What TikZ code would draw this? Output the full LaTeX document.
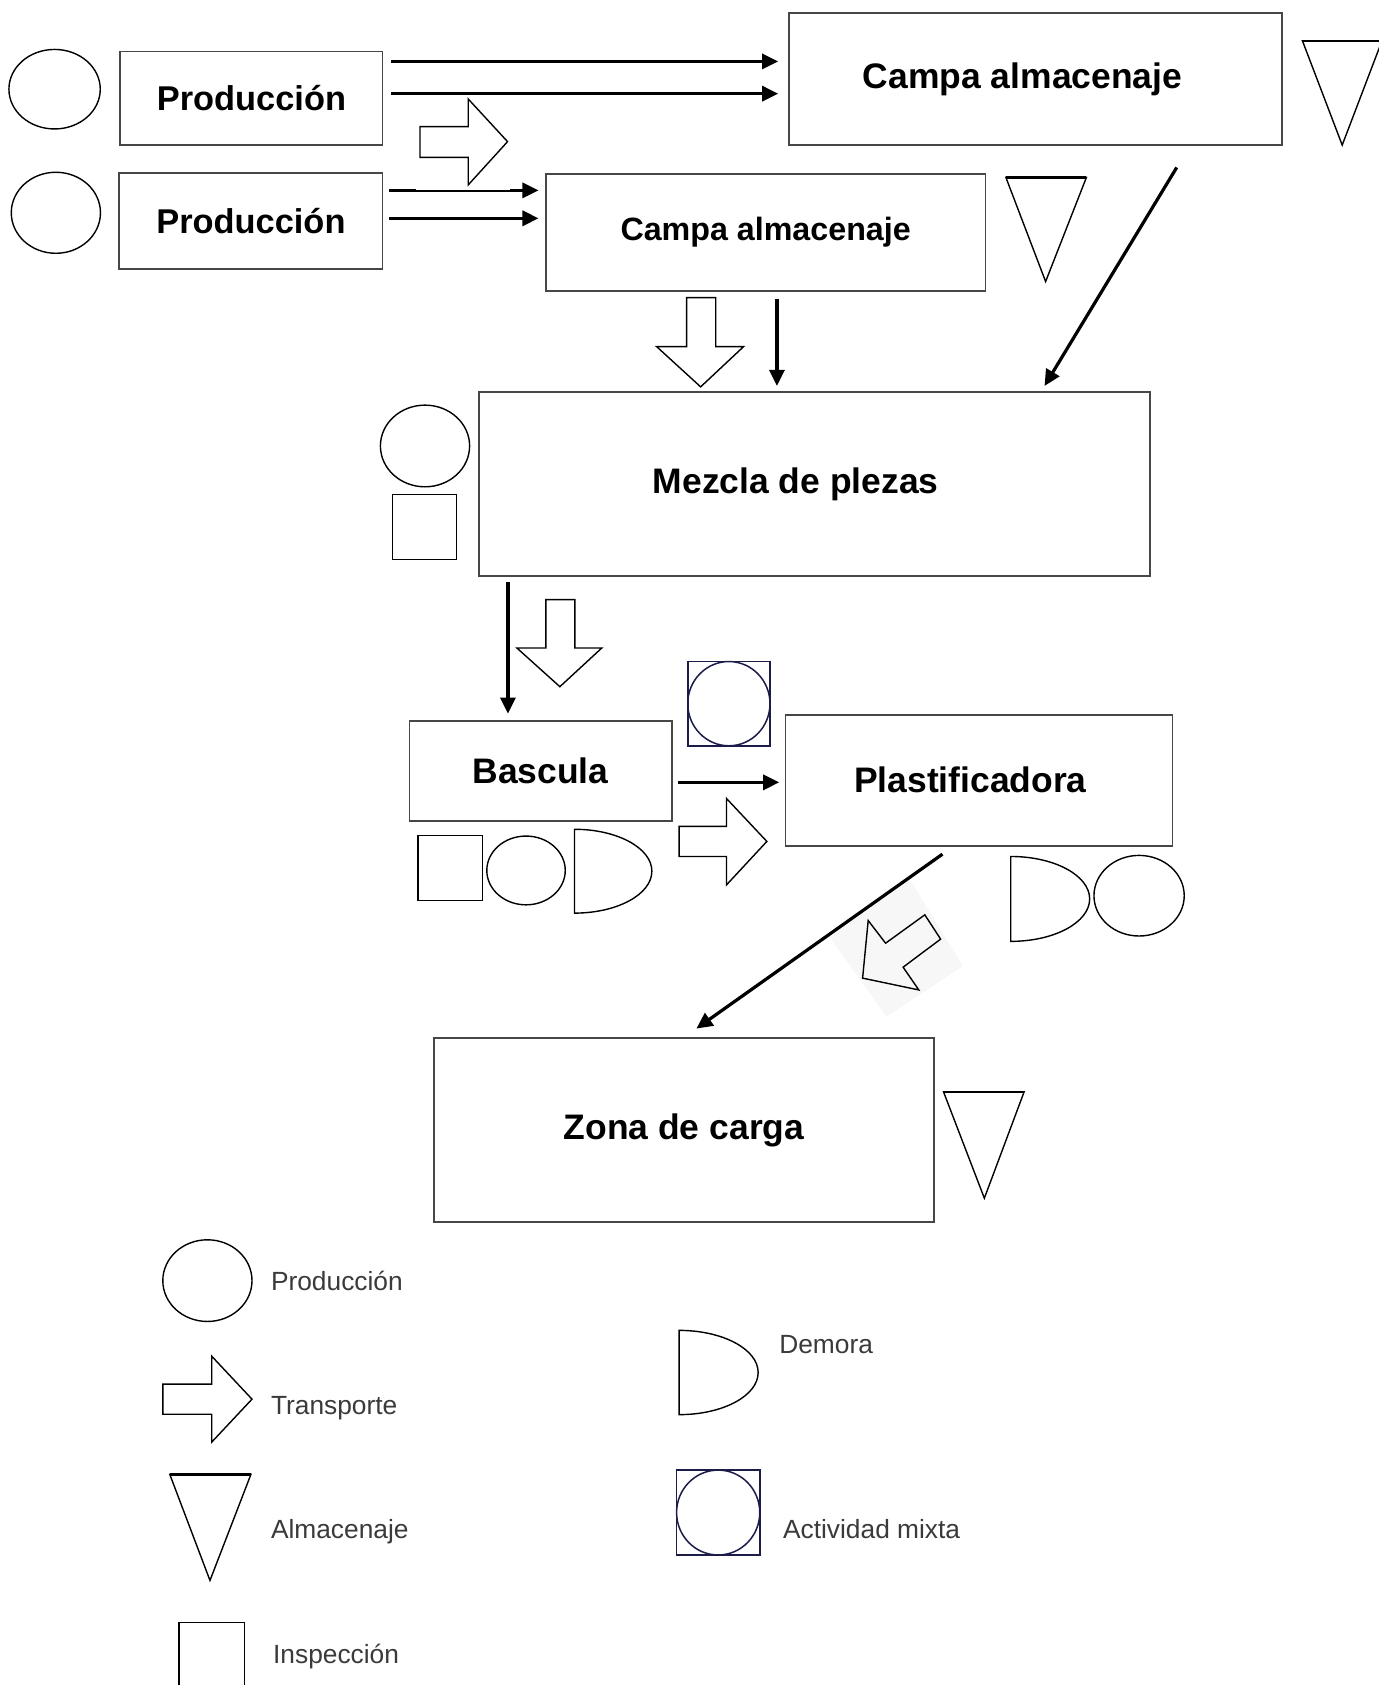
\documentclass[tikz,border=0pt]{standalone}
\usepackage{fontspec}
\setmainfont{Liberation Sans}
\usetikzlibrary{arrows.meta}
\definecolor{mixcol}{RGB}{28,28,72}
\definecolor{legtext}{RGB}{58,58,58}
\begin{document}
\begin{tikzpicture}[x=1pt,y=-1pt,
  box/.style={draw=black!72, line width=1.7pt, inner sep=0pt,
    font=\bfseries\fontsize{33}{40}\selectfont},
  conn/.style={line width=3pt, -{Triangle[length=15pt,width=14pt]}},
  sym/.style={draw=black, line width=1.3pt},
  mix/.style={draw=mixcol, line width=1.4pt},
  topedge/.style={draw=black, line width=2.3pt},
  legtxt/.style={anchor=base west, inner sep=0pt, text=legtext,
    font=\fontsize{24.5}{29}\selectfont}]

\useasboundingbox (0,0) rectangle (1283,1568);
\clip (0,0) rectangle (1283,1568);

% ---------- process boxes ----------
\node[box, minimum width=244pt, minimum height=87pt,
  font=\bfseries\fontsize{32}{38}\selectfont] (prod1) at (234,91.5) {Producción};
\node[box, minimum width=245pt, minimum height=89pt,
  font=\bfseries\fontsize{32}{38}\selectfont] (prod2) at (233.5,205.5) {Producción};
\node[box, minimum width=459pt, minimum height=123pt] (campa1) at (963.5,73.5)
  {\hspace*{-24pt}Campa almacenaje};
\node[box, minimum width=409pt, minimum height=109pt,
  font=\bfseries\fontsize{30}{36}\selectfont] (campa2) at (712.5,216.5) {Campa almacenaje};
\node[box, minimum width=624pt, minimum height=171pt] (mezcla) at (758,450.5)
  {\hspace*{-35pt}Mezcla de plezas};
\node[box, minimum width=244pt, minimum height=93pt] (bascula) at (503,717.5) {Bascula};
\node[box, minimum width=360pt, minimum height=122pt] (plast) at (911,726)
  {\hspace*{-16pt}Plastificadora};
\node[box, minimum width=465pt, minimum height=171pt] (zona) at (636.5,1051.5) {Zona de carga};

% ---------- connectors ----------
\coordinate (p1a) at ([shift={(7,10)}]prod1.north east);
\coordinate (p1b) at ([shift={(7,40)}]prod1.north east);
\draw[conn, shorten >=9pt] (p1a) -- (p1a -| campa1.west);
\draw[conn, shorten >=9pt] (p1b) -- (p1b -| campa1.west);

\coordinate (p2a) at ([shift={(5,17)}]prod2.north east);
\coordinate (p2b) at ([shift={(5,43)}]prod2.north east);
\draw[conn, shorten >=6pt] (p2a) -- (p2a -| campa2.west);
\draw[conn, shorten >=6pt] (p2b) -- (p2b -| campa2.west);

\draw[conn] ([shift={(131.5,20)}]campa1.south) -- ([shift={(214,-5)}]mezcla.north);

\coordinate (c2v) at ([shift={(10.5,6)}]campa2.south);
\draw[conn, shorten >=5pt] (c2v) -- (c2v |- mezcla.north);

\coordinate (mzv) at ([shift={(27.5,5)}]mezcla.south west);
\draw[conn, shorten >=6pt] (mzv) -- (mzv |- bascula.north);

\coordinate (bsh) at ([shift={(5,10.5)}]bascula.east);
\draw[conn, shorten >=5pt] (bsh) -- (bsh -| plast.west);

% faint backdrop of the slanted transport arrow
\fill[black!3] (772,872) -- (847,819) -- (896,899) -- (825,946) -- cycle;

\draw[conn] ([shift={(-34,7)}]plast.south) -- ([shift={(11.5,-8)}]zona.north);

% ---------- transport arrows ----------
\fill[white] (387,88.8) rectangle (474.5,177.2);
\draw[sym, line join=miter] (390.8,117.9) -- (435.7,117.9) -- (435.7,92.1) -- (472.3,131.8)
  -- (435.7,172.1) -- (435.7,146.4) -- (390.8,146.4) -- cycle;
\draw[sym] (639,277) -- (666,277) -- (666,322.5) -- (692,322.5) -- (652,360)
  -- (611,322.5) -- (639,322.5) -- cycle;
\draw[sym] (508,558) -- (535,558) -- (535,603) -- (560,603) -- (521,639)
  -- (481,603) -- (508,603) -- cycle;
\draw[sym] (632,769) -- (676,769) -- (676,743) -- (713.6,783) -- (676,823.5)
  -- (676,797) -- (632,797) -- cycle;
\draw[sym] (802.7,910.2) -- (855,921.2) -- (840.4,900) -- (875.3,873.9)
  -- (860.6,851.3) -- (824.1,877.7) -- (807.9,856.6) -- cycle;

% ---------- production circles ----------
\draw[sym] (50.8,83) ellipse[x radius=42.5, y radius=37];
\draw[sym] (52,198) ellipse[x radius=41.5, y radius=37.7];
\draw[sym] (395.5,415) ellipse[x radius=41.5, y radius=38];
\draw[sym] (489.5,810) ellipse[x radius=36.5, y radius=32];
\draw[sym] (1060,833.5) ellipse[x radius=42, y radius=37.5];

% ---------- storage triangles ----------
\draw[sym] (1212,38) -- (1286,38) -- (1249,135) -- cycle;
\draw[topedge] (1212,38) -- (1286,38);
\draw[sym] (936,165) -- (1011,165) -- (973,262) -- cycle;
\draw[topedge] (936,165) -- (1011,165);
\draw[sym] (878,1016) -- (953,1016) -- (916,1115) -- cycle;
\draw[topedge] (878,1016) -- (953,1016);

% ---------- inspection squares ----------
\draw[sym, line width=1.1pt] (365,460) rectangle (425,521);
\draw[sym, line width=1.1pt] (389,777.5) rectangle (449,838);

% ---------- delay shapes ----------
\draw[sym] (534.6,771.7) arc[start angle=-90, end angle=90, x radius=72, y radius=39] -- cycle;
\draw[sym] (940.6,797) arc[start angle=-90, end angle=90, x radius=73.4, y radius=39.5] -- cycle;

% ---------- combined activity ----------
\draw[mix] (640,615.6) rectangle (716.5,694);
\draw[mix] (678.25,654.8) ellipse[x radius=38.25, y radius=39.2];

% ---------- legend ----------
\draw[sym] (193,1191.7) ellipse[x radius=41.5, y radius=38];
\node[legtxt] (lgprod) at (252,1201) {Producción};

\draw[sym] (151.6,1288) -- (197,1288) -- (197,1262) -- (234.5,1302) -- (197,1342)
  -- (197,1316) -- (151.6,1316) -- cycle;
\node[legtxt] (lgtrans) at (252,1316) {Transporte};

\draw[sym] (158,1372) -- (233.5,1372) -- (195.4,1470.7) -- cycle;
\draw[topedge] (158,1372) -- (233.5,1372);
\node[legtxt] (lgalm) at (252,1432) {Almacenaje};

\draw[sym, line width=1.1pt] (166.6,1510) rectangle (227.5,1571);
\node[legtxt] (lgins) at (254,1548) {Inspección};

\draw[sym] (632,1238) arc[start angle=-90, end angle=90, x radius=73.5, y radius=39.2] -- cycle;
\node[legtxt] (lgdem) at (725,1259.5) {Demora};

\draw[mix] (629.6,1368) rectangle (707,1447);
\draw[mix] (668.3,1407.5) ellipse[x radius=38.7, y radius=39.5];
\node[legtxt] (lgmix) at (728.5,1432) {Actividad mixta};

\end{tikzpicture}
\end{document}
